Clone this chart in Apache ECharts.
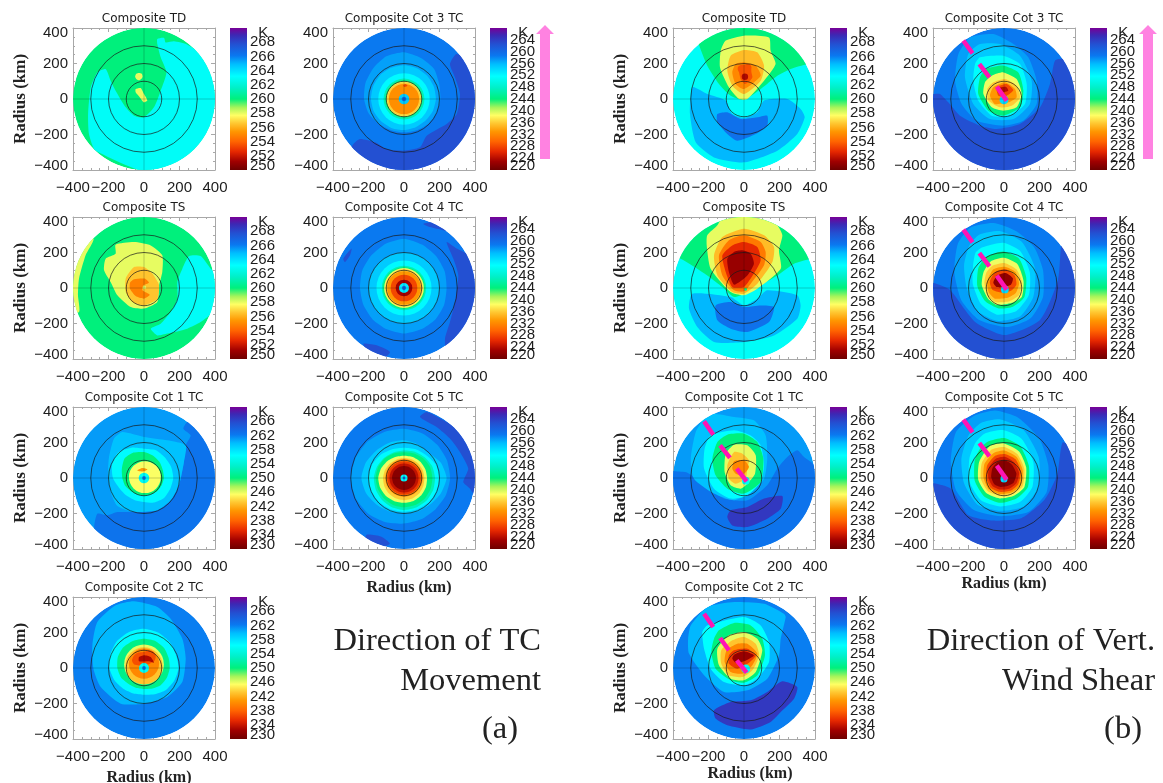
<!DOCTYPE html>
<html><head><meta charset="utf-8">
<style>html,body{margin:0;padding:0;background:#fff}#c{width:1163px;height:783px;filter:blur(0.6px)}</style>
<script src="https://cdn.jsdelivr.net/npm/echarts@6/dist/echarts.min.js"></script>
</head><body><div id="c"></div>
<script>
// Contours: [K,[x,y,x,y...]] outline in km, or [K,[cx,cy],[radii clockwise from north]] in km
const ringRadii=[100,200,300];
const rangeTD=[250,270,2], rangeHigh=[220,268,4], rangeLow=[230,270,4];
const shearSegA=[[-229,329,-177,257],[-139,197,-82,122],[-41,70,15,-9]];
const shearSegB=[[-225,319,-173,244],[-135,184,-79,113],[-41,53,15,-19]];
const shearSegC=[[-225,306,-173,231],[-135,169,-85,100],[-41,43,15,-26]];

const moveTD=[[260,[0,0],[400]],
[263,[75,338,113,344,122,319,169,325,244,306,432,178,432,-197,131,-441,-272,-291,-310,-197,-315,-85,-300,66,-263,150,-216,169,-188,103,-160,47,-103,-47,-56,-94,0,-103,56,-47,94,47,126,150,94,235,75,310]],
[258,[-28,126],[20,22,20,18,20,20,22,22]],
[258,[-47,56,-19,62,0,28,19,-9,0,-19,-23,9,-47,38]]];
const moveTS=[[260,[0,0],[400]],
[258,[-285,278,-329,184,-366,53,-372,-41,-366,-135,-450,-135,-450,278]],
[263,[254,180,319,180,376,109,470,15,432,-98,319,-192,244,-229,131,-257,75,-267,38,-229,94,-201,150,-135,188,-60,188,34,216,109]],
[258,[-160,244,-56,259,38,240,103,184,103,90,85,15,75,-79,0,-116,-75,-107,-150,-41,-188,34,-225,100,-216,165,-160,193]],
[256.5,[-56,118,0,118,47,81,85,15,75,-60,0,-98,-66,-79,-103,-23,-103,53]],
[254.8,[-56,49,4,53,28,30,-4,15,-9,-13,32,-38,0,-60,-47,-45,-79,-4,-79,30]],
[258,[3,3],[9]]];
const cat1Move=[[261,[0,0],[400]],
[262.6,[244,315,222,278,263,240,235,184,225,90,197,-41,150,-126,75,-182,-56,-192,-150,-192,-207,-210,-263,-201,-280,-290,-200,-450,450,-450,450,400]],
[259.6,[-122,259,0,231,131,212,235,184,225,90,197,-41,150,-126,75,-182,-56,-192,-150,-158,-188,-79,-203,15,-197,118,-169,222]],
[256.6,[0,0],[165,170,165,165,165,160,160,150,135,135,140,150,175,195,205,185]],
[250,[0,0],[146,135,125,115,112,108,105,100,98,100,105,115,122,135,155,155]],
[245.5,[5,5],[90]],
[241,[-38,43,-9,56,19,49,4,38,-28,38]],
[256,[0,0],[30]],
[262,[0,0],[11]]];
const cat2Move=[[262,[0,0],[400]],
[260,[-160,353,-56,376,75,344,150,278,216,165,235,53,216,-79,131,-163,0,-201,-131,-201,-244,-107,-285,-4,-291,128,-263,259]],
[256.6,[0,0],[221,215,205,195,195,185,175,160,150,155,165,180,195,205,215,220]],
[250.5,[0,0],[165,165,160,150,145,140,135,125,118,120,125,140,150,160,165,165]],
[246,[0,20],[112]],
[243,[0,12],[105]],
[240,[0,25],[85]],
[237,[0,42],[48,62,72,72,60,40,32,32,30,34,40,60,68,64,58,50]],
[233,[-28,62,0,72,38,62,56,30,28,38,-28,38]],
[256,[0,0],[28]],
[262,[0,0],[11]]];
const cat3Move=[[258.6,[0,0],[400]],
[262.6,[259,197,297,254,428,178,466,-103,240,-498,-323,-329,-285,-254,-248,-225,-163,-244,-98,-282,-4,-291,90,-272,128,-207,240,-141,297,-85,315,28,287,122]],
[257,[0,0],[263,250,240,215,205,200,195,190,188,190,200,215,225,235,245,260]],
[255,[0,0],[190,188,185,182,180,176,172,172,175,178,180,184,186,188,190,190]],
[252,[0,0],[145]],
[247,[0,0],[115]],
[244,[0,0],[105]],
[239.5,[0,0],[100]],
[236,[0,0],[95]],
[232.5,[0,0],[85]],
[228,[-5,75,8,84,20,74,4,68]],
[255,[0,0],[30]],
[260,[0,0],[13]]];
const cat4Move=[[258.6,[0,0],[400]],
[262.6,[240,259,297,222,428,146,466,-135,240,-361,231,-285,259,-192,287,-79,306,71,278,165]],
[262.6,[109,361,184,372,259,315,222,325,146,343]],
[262.6,[-342,165,-295,222,-304,184,-332,146]],
[262.6,[-229,-314,-154,-323,-79,-361,-116,-398,-192,-370]],
[257,[0,0],[278,265,255,248,240,245,250,252,257,252,250,248,248,255,260,270]],
[255,[0,0],[200]],
[252,[0,0],[155]],
[247,[0,0],[125]],
[244,[0,0],[118]],
[239,[0,0],[112]],
[236,[0,0],[105]],
[233,[0,0],[95]],
[228,[0,0],[75]],
[223,[0,0],[47]],
[253,[0,0],[28]],
[260,[0,0],[12]]];
const cat5Move=[[258.6,[0,0],[400]],
[262.6,[222,325,353,240,428,53,400,-98,372,-60,334,-23,362,53,315,146,259,222,184,287,90,344,128,372]],
[262.6,[-210,-320,-130,-330,-80,-370,-150,-395,-220,-360]],
[257,[0,0],[278,272,265,262,260,255,250,252,257,270,285,295,300,295,290,282]],
[255,[0,0],[212,205,200,225,240,225,210,205,200,205,215,230,240,232,220,215]],
[252,[0,0],[170,175,180,195,200,198,195,192,190,192,195,198,200,195,185,175]],
[247,[0,0],[155,160,165,172,175,178,180,180,180,178,175,172,170,165,160,156]],
[244,[0,0],[145,150,155,160,160,162,165,165,165,164,162,160,160,158,155,150]],
[239,[0,0],[125,128,130,130,130,134,138,140,140,142,144,145,145,140,134,128]],
[236,[0,0],[112,114,115,115,115,118,122,125,125,124,122,120,118,116,114,112]],
[232,[0,0],[105]],
[227.5,[0,0],[95]],
[224.5,[0,0],[82]],
[221.5,[0,0],[67]],
[252,[0,0],[20]],
[260,[0,0],[8]]];
const shearTD=[[263,[0,0],[400]],
[260,[-252,300,-207,188,-141,85,-75,19,0,-4,94,56,188,131,263,169,357,197,450,220,450,450,-300,450]],
[265,[-291,66,-207,28,-103,-9,-66,-85,0,-107,75,-75,113,-9,244,0,319,-56,342,-103,300,-197,188,-291,0,-357,-169,-329,-272,-244,-304,-85]],
[266.4,[-150,-85,-94,-75,-19,-113,75,-103,131,-94,131,-150,66,-197,-38,-235,-94,-197,-150,-131]],
[258,[-103,329,0,357,141,347,150,272,178,197,113,103,19,0,-28,0,-85,66,-135,178,-131,272]],
[256.3,[0,276,75,263,113,188,94,103,0,28,-66,75,-94,160,-75,244]],
[255,[0,207,66,188,94,131,0,56,-47,85,-66,150,-47,197]],
[253.6,[5,165],[28,35,42,40,36,40,60,70,80,60,42,36,40,42,36,30]],
[251.5,[5,125],[18]]];
const shearTS=[[263,[0,0],[400]],
[260,[-357,165,-207,71,-122,6,-56,-51,0,-32,75,6,188,71,282,137,376,165,450,180,450,450,-450,450,-450,180]],
[265,[-291,-32,-75,-51,0,-98,75,-60,131,-13,300,-41,319,-98,300,-173,169,-267,0,-304,-169,-304,-263,-220,-310,-116]],
[266.4,[-160,-98,-75,-79,0,-107,94,-98,169,-107,141,-192,19,-248,-75,-229,-150,-182]],
[258,[-150,353,-100,440,100,440,188,353,216,297,197,212,207,109,75,-4,0,-41,-75,-23,-188,109,-210,240,-207,297]],
[256.3,[-122,287,0,334,113,297,169,231,160,146,75,24,0,-32,-66,-23,-150,71,-169,184]],
[254.6,[0,297,94,259,122,203,113,128,38,24,0,-19,-56,-13,-122,71,-141,184,-85,269]],
[252.6,[0,259,75,231,94,156,56,81,0,6,-66,6,-103,90,-122,184,-66,240]],
[251,[-9,212,38,193,56,137,19,71,-56,19,-85,90,-94,165,-56,203]],
[260,[9,-8],[8]]];
const shearCat1=[[261,[0,0],[400]],
[262.6,[-391,38,-319,30,-244,-23,-113,-116,19,-126,131,-41,188,53,244,118,300,156,338,118,394,71,450,-450,-450,-450,-450,38]],
[267,[-75,-182,19,-163,113,-116,216,-101,207,-173,131,-229,19,-276,-66,-267,-94,-220]],
[259.6,[-178,362,-56,344,56,325,122,240,131,109,113,-4,38,-79,-56,-126,-169,-88,-282,-4,-300,109,-272,259,-225,334]],
[256.4,[-188,240,-56,269,38,240,94,184,113,71,94,-23,19,-98,-75,-116,-169,-60,-225,53,-222,165]],
[250,[-94,244,0,250,75,203,109,109,94,-23,0,-88,-94,-60,-160,15,-178,109,-150,203]],
[246,[-56,188,19,184,66,128,62,24,19,-32,-19,-60,-75,-41,-109,34,-103,137]],
[243,[-56,146,-9,137,28,100,19,53,9,-4,-47,-32,-85,-4,-94,71]],
[240,[-56,94,0,100,28,62,-9,15,-47,24,-66,53]],
[256,[10,-15],[22]]];
const shearCat2=[[262,[0,0],[400]],
[267,[-169,-238,-75,-192,38,-182,131,-135,216,-75,300,-107,282,-173,207,-248,150,-304,38,-346,-94,-323,-160,-285]],
[260,[-300,240,-207,344,-56,372,113,362,225,306,235,287,207,165,197,71,131,-60,19,-126,-113,-135,-225,-41,-310,81,-315,165]],
[256.4,[-207,240,0,287,94,240,141,146,141,34,75,-60,0,-98,-113,-79,-188,-4,-225,109,-235,203]],
[250,[-141,212,-56,254,38,240,103,165,118,71,75,-41,0,-83,-75,-69,-160,-4,-184,90,-169,165]],
[246,[-85,184,0,203,75,165,103,100,66,-23,0,-69,-75,-60,-141,15,-150,109]],
[243,[-66,156,0,175,66,137,85,71,47,-13,-9,-51,-85,-41,-128,24,-128,100]],
[240,[-38,137,19,137,75,81,47,15,-9,-32,-75,-23,-109,34,-98,100]],
[236,[-56,100,19,109,66,71,28,30,-38,-4,-85,24,-85,71]],
[232,[-56,75,0,94,56,71,0,38,-47,30,-66,53]],
[256,[10,-5],[25]]];
const shearCat3=[[258.6,[0,0],[400]],
[262.6,[-394,28,-361,28,-314,-19,-248,-94,-135,-150,-41,-169,90,-141,203,-47,259,85,287,216,334,225,409,150,450,-450,-450,-450,-450,28]],
[257,[-192,347,-60,366,53,310,137,235,184,103,184,-28,109,-122,-4,-150,-154,-122,-239,-28,-276,103,-257,254]],
[255,[-135,310,-23,310,90,244,156,103,146,-28,53,-113,-79,-113,-173,-28,-220,122,-201,254]],
[251.5,[-135,235,-4,244,90,197,128,85,118,-28,34,-94,-69,-94,-145,-9,-173,103,-163,197]],
[244,[-98,169,-4,188,81,150,109,47,90,-47,-4,-94,-88,-66,-145,28,-135,122]],
[239,[-69,131,-4,150,71,113,100,28,71,-47,-4,-66,-69,-47,-116,28,-107,94]],
[236,[-60,94,6,113,71,75,90,9,43,-38,-23,-47,-88,-9,-94,56]],
[233,[-60,66,6,94,62,56,71,9,24,-19,-51,-28,-79,19]],
[228,[-41,66,15,85,53,51,15,19,-32,19]],
[224,[-32,62,11,69,24,47,-13,38]],
[254,[0,-5],[25]]];
const shearCat4=[[258.6,[0,0],[400]],
[262.6,[-394,28,-304,-11,-163,-191,6,-265,203,-180,304,45,327,270,372,214,450,-450,-450,-450,-450,28]],
[257,[-190,340,-60,366,70,320,170,230,220,100,220,-50,150,-170,20,-220,-140,-180,-240,-70,-280,90,-260,250]],
[255,[-140,300,-20,320,100,260,175,110,165,-50,90,-160,-40,-185,-150,-130,-210,0,-225,130,-195,240]],
[251.5,[-120,230,-5,255,90,210,145,90,140,-40,70,-130,-40,-150,-130,-90,-175,20,-175,120,-160,200]],
[244,[-100,175,-5,205,85,165,125,60,115,-50,50,-105,-30,-115,-105,-75,-150,10,-145,110]],
[239,[-75,150,0,170,75,135,110,40,100,-50,40,-85,-40,-95,-90,-60,-125,15,-115,90]],
[236,[-65,125,5,140,70,105,100,35,85,-40,30,-75,-45,-80,-90,-45,-110,25,-100,85]],
[233,[-60,105,5,120,65,90,85,25,65,-30,20,-55,-50,-60,-85,-25,-95,35]],
[228,[-50,90,10,105,60,70,70,20,40,-15,-20,-25,-65,-10,-80,35]],
[222,[-40,70,10,85,50,55,40,20,0,5,-40,5,-60,30]],
[254,[5,-8],[22]]];
const shearCat5=[[258.6,[0,0],[400]],
[262.6,[-394,-30,-300,-60,-200,-210,-60,-240,100,-225,230,-120,300,20,330,200,390,160,450,-450,-450,-450,-450,-30]],
[257,[-170,350,-50,380,80,340,200,220,250,70,240,-80,140,-190,-20,-215,-170,-180,-270,-70,-300,90,-270,260]],
[255,[-130,310,-20,330,110,270,195,120,195,-50,110,-160,-20,-185,-150,-150,-225,-30,-240,110,-200,240]],
[251.5,[-110,250,-5,270,100,220,165,90,160,-50,90,-135,-20,-160,-130,-125,-195,-20,-195,110,-160,200]],
[244,[-90,205,0,225,90,180,140,70,135,-50,70,-115,-20,-140,-110,-105,-165,-15,-165,100,-135,165]],
[239,[-80,180,0,195,85,150,125,60,115,-50,55,-100,-25,-115,-100,-85,-145,-10,-140,90]],
[236,[-70,160,0,175,75,135,115,50,105,-45,50,-90,-25,-100,-90,-75,-130,-5,-125,85]],
[233,[-60,140,0,155,70,120,105,45,95,-40,45,-80,-25,-90,-85,-65,-115,0,-110,80]],
[228,[-50,125,5,135,65,105,95,35,80,-35,40,-70,-25,-78,-75,-55,-100,0,-95,70]],
[225,[-45,110,5,120,55,90,85,30,70,-30,30,-60,-25,-65,-65,-45,-88,0,-85,60]],
[221.5,[-35,90,5,100,45,75,70,25,55,-25,20,-45,-20,-50,-55,-35,-72,5,-65,55]],
[254,[0,-5],[20]]];

const panels=[
{t:'Composite TD',d:moveTD,rg:rangeTD,c:0,r:0,yn:1},
{t:'Composite TS',d:moveTS,rg:rangeTD,c:0,r:1,yn:1},
{t:'Composite Cot 1 TC',d:cat1Move,rg:rangeLow,c:0,r:2,yn:1},
{t:'Composite Cot 2 TC',d:cat2Move,rg:rangeLow,c:0,r:3,yn:1,xn:[31,10]},
{t:'Composite Cot 3 TC',d:cat3Move,rg:rangeHigh,c:1,r:0},
{t:'Composite Cot 4 TC',d:cat4Move,rg:rangeHigh,c:1,r:1},
{t:'Composite Cot 5 TC',d:cat5Move,rg:rangeHigh,c:1,r:2,xn:[31,10]},
{t:'Composite TD',d:shearTD,rg:rangeTD,c:2,r:0,yn:1},
{t:'Composite TS',d:shearTS,rg:rangeTD,c:2,r:1,yn:1},
{t:'Composite Cot 1 TC',d:shearCat1,rg:rangeLow,c:2,r:2,yn:1,sh:shearSegB},
{t:'Composite Cot 2 TC',d:shearCat2,rg:rangeLow,c:2,r:3,yn:1,xn:[27,12],sh:shearSegC},
{t:'Composite Cot 3 TC',d:shearCat3,rg:rangeHigh,c:3,r:0,sh:shearSegA},
{t:'Composite Cot 4 TC',d:shearCat4,rg:rangeHigh,c:3,r:1,sh:shearSegA},
{t:'Composite Cot 5 TC',d:shearCat5,rg:rangeHigh,c:3,r:2,xn:[27,0],sh:shearSegA}
];
const colX=[73,333,673,933], rowY=[28,217,407,597], box=142, cbOff=157, cbW=17;
const sans='"Liberation Sans",Arial,sans-serif', serif='"Liberation Serif","Times New Roman",serif';
const rampT=[0,.06,.13,.2,.27,.33,.385,.44,.5,.58,.66,.745,.805,.887,.95,1];
const rampC=['#6E0000','#A00000','#E62800','#FF6400','#FF9600','#FFC832','#FFFF64','#A8F45A','#00F07C','#00F0C8','#00FFFF','#00BEFF','#0A78F0','#2350D2','#3C28B4','#780096'];
function hex(c){return [1,3,5].map(i=>parseInt(c.substr(i,2),16));}
function colorAt(t){
  t=Math.max(0,Math.min(1,t));
  for(let i=1;i<rampT.length;i++){ if(t<=rampT[i]){
    const f=(t-rampT[i-1])/(rampT[i]-rampT[i-1]),a=hex(rampC[i-1]),b=hex(rampC[i]);
    return 'rgb('+a.map((v,j)=>Math.round(v+(b[j]-v)*f)).join(',')+')';}}
  return rampC[rampC.length-1];
}
function outlineKm(ct){
  if(ct.length===2){const o=[];for(let i=0;i<ct[1].length;i+=2)o.push([ct[1][i],ct[1][i+1]]);return o;}
  const n=ct[2].length;
  return ct[2].map((r,i)=>{const a=2*Math.PI*i/n;return [ct[1][0]+r*Math.sin(a),ct[1][1]+r*Math.cos(a)];});
}
const minusFmt=v=>String(v).replace('-','\u2212');
const grids=[],xAxes=[],yAxes=[],series=[],titles=[];
const axisGray='#a8a8a8';
panels.forEach(p=>{
  const L=colX[p.c],T=rowY[p.r];
  const gi=grids.length;
  grids.push({left:L,top:T,width:box,height:box,outerBoundsMode:'none',containLabel:false});
  const common={type:'value',min:-400,max:400,interval:200,gridIndex:gi,splitLine:{show:false},
    axisLine:{onZero:false,lineStyle:{color:axisGray,width:1}},
    axisTick:{inside:true,length:4,lineStyle:{color:axisGray}},
    minorTick:{show:true,splitNumber:4,length:2,lineStyle:{color:axisGray}}};
  const lab={fontFamily:sans,fontSize:15,color:'#1c1c1c',hideOverlap:false};
  const xi=xAxes.length, yi=yAxes.length;
  const xa=Object.assign({},common,{position:'bottom',axisLabel:Object.assign({margin:10,formatter:minusFmt,showMinLabel:true,showMaxLabel:true},lab)});
  if(p.xn){xa.name='Radius (km)';xa.nameLocation='middle';xa.nameGap=p.xn[0];xa.nameTextStyle={fontFamily:serif,fontWeight:'bold',fontSize:16,color:'#222',padding:[0,0,0,p.xn[1]]};}
  xAxes.push(xa);
  xAxes.push(Object.assign({},common,{position:'top',axisLabel:{show:false}}));
  const ya=Object.assign({},common,{position:'left',axisLabel:Object.assign({margin:5,formatter:minusFmt,showMinLabel:true,showMaxLabel:true,lineHeight:9,verticalAlignMinLabel:'bottom',verticalAlignMaxLabel:'top'},lab)});
  if(p.yn){ya.name='Radius (km)';ya.nameLocation='middle';ya.nameGap=44;ya.nameTextStyle={fontFamily:serif,fontWeight:'bold',fontSize:17,color:'#222'};}
  yAxes.push(ya);
  yAxes.push(Object.assign({},common,{position:'right',axisLabel:{show:false}}));
  const tMin=p.rg[0],tSpan=p.rg[1]-p.rg[0];
  series.push({type:'custom',coordinateSystem:'cartesian2d',xAxisIndex:xi,yAxisIndex:yi,silent:true,clip:false,z:2,
    data:p.d.map((c,i)=>[i]),
    renderItem:(params,api)=>{
      const ct=p.d[api.value(0)],fill=colorAt((ct[0]-tMin)/tSpan);
      const c0=api.coord([0,0]),R=api.size([400,0])[0];
      const clip={type:'circle',shape:{cx:c0[0],cy:c0[1],r:R}};
      if(ct.length===3&&ct[2].length===1){
        const o=api.coord([ct[1][0],ct[1][1]]);
        return {type:'circle',shape:{cx:o[0],cy:o[1],r:api.size([ct[2][0],0])[0]},style:{fill},clipPath:clip};
      }
      return {type:'polygon',shape:{points:outlineKm(ct).map(q=>api.coord(q)),smooth:0.2},style:{fill},clipPath:clip};
    }});
  series.push({type:'custom',coordinateSystem:'cartesian2d',xAxisIndex:xi,yAxisIndex:yi,silent:true,clip:false,z:3,
    data:ringRadii.map(r=>[r]),
    renderItem:(params,api)=>{
      const o=api.coord([0,0]);
      return {type:'circle',shape:{cx:o[0],cy:o[1],r:api.size([api.value(0),0])[0]},style:{fill:'none',stroke:'rgba(25,25,25,0.7)',lineWidth:1}};
    }});
  series.push({type:'custom',coordinateSystem:'cartesian2d',xAxisIndex:xi,yAxisIndex:yi,silent:true,clip:false,z:3,
    data:[[-400,0,400,0],[0,-400,0,400]],
    renderItem:(params,api)=>{
      const a=api.coord([api.value(0),api.value(1)]),b=api.coord([api.value(2),api.value(3)]);
      return {type:'line',shape:{x1:a[0],y1:a[1],x2:b[0],y2:b[1]},style:{stroke:'rgba(0,0,0,0.2)',lineWidth:1}};
    }});
  if(p.sh){series.push({type:'custom',coordinateSystem:'cartesian2d',xAxisIndex:xi,yAxisIndex:yi,silent:true,clip:false,z:4,
    data:p.sh,
    renderItem:(params,api)=>{
      const a=api.coord([api.value(0),api.value(1)]),b=api.coord([api.value(2),api.value(3)]);
      return {type:'line',shape:{x1:a[0],y1:a[1],x2:b[0],y2:b[1]},style:{stroke:'#FF14B4',lineWidth:4.5}};
    }});}
  // colour bar: inner tick labels on one axis, the two end labels on a second axis over the same scale
  const gc=grids.length;
  grids.push({left:L+cbOff,top:T,width:cbW,height:box,outerBoundsMode:'none',containLabel:false});
  xAxes.push({type:'value',gridIndex:gc,min:0,max:1,show:false});
  const xc=xAxes.length-1;
  yAxes.push({type:'value',gridIndex:gc,position:'right',min:p.rg[0],max:p.rg[1],interval:p.rg[2],splitLine:{show:false},
    axisLine:{show:false},axisTick:{show:false},
    axisLabel:Object.assign({margin:3,showMinLabel:false,showMaxLabel:false},lab)});
  const yc=yAxes.length-1;
  yAxes.push({type:'value',gridIndex:gc,position:'right',min:p.rg[0],max:p.rg[1],interval:p.rg[1]-p.rg[0],splitLine:{show:false},
    axisLine:{show:false},axisTick:{show:false},
    axisLabel:Object.assign({margin:3,showMinLabel:true,showMaxLabel:true,lineHeight:9,verticalAlignMinLabel:'bottom',verticalAlignMaxLabel:'top',
      formatter:v=>v===p.rg[1]?'  K':String(v)},lab)});
  series.push({type:'custom',coordinateSystem:'cartesian2d',xAxisIndex:xc,yAxisIndex:yc,silent:true,z:2,
    data:[[p.rg[0],p.rg[1]]],
    renderItem:(params,api)=>{
      const a=api.coord([0,api.value(1)]),b=api.coord([1,api.value(0)]);
      return {type:'rect',shape:{x:a[0],y:a[1],width:b[0]-a[0],height:b[1]-a[1]},
        style:{fill:{type:'linear',x:0,y:1,x2:0,y2:0,colorStops:rampT.map((t,i)=>({offset:t,color:rampC[i]}))}}};
    }});
  titles.push({text:p.t,left:L+box/2,top:T-15,padding:0,textAlign:'center',textStyle:{fontFamily:'"DejaVu Sans",sans-serif',fontWeight:'normal',fontSize:12,color:'#1c1c1c'}});
});
const bigText=[['Direction of TC',541,641],['Movement',541,681],['(a)',518,729],['Direction of Vert.',1155,641],['Wind Shear',1155,681],['(b)',1142,729]];
const arrowX=[545,1148];
const graphic=bigText.map(b=>({type:'text',x:b[1],y:b[2],style:{text:b[0],font:'32.5px '+serif,fill:'#222',textAlign:'right',textVerticalAlign:'middle'}}));
arrowX.forEach(x=>graphic.push({type:'polygon',shape:{points:[[x,25],[x+9,34],[x+5,34],[x+5,159],[x-5,159],[x-5,34],[x-9,34]]},style:{fill:'#FF82E1'}}));
const chart=echarts.init(document.getElementById('c'),null,{renderer:'canvas'});
chart.setOption({animation:false,backgroundColor:'#fff',title:titles,grid:grids,xAxis:xAxes,yAxis:yAxes,series,graphic:{elements:graphic}});
</script></body></html>
